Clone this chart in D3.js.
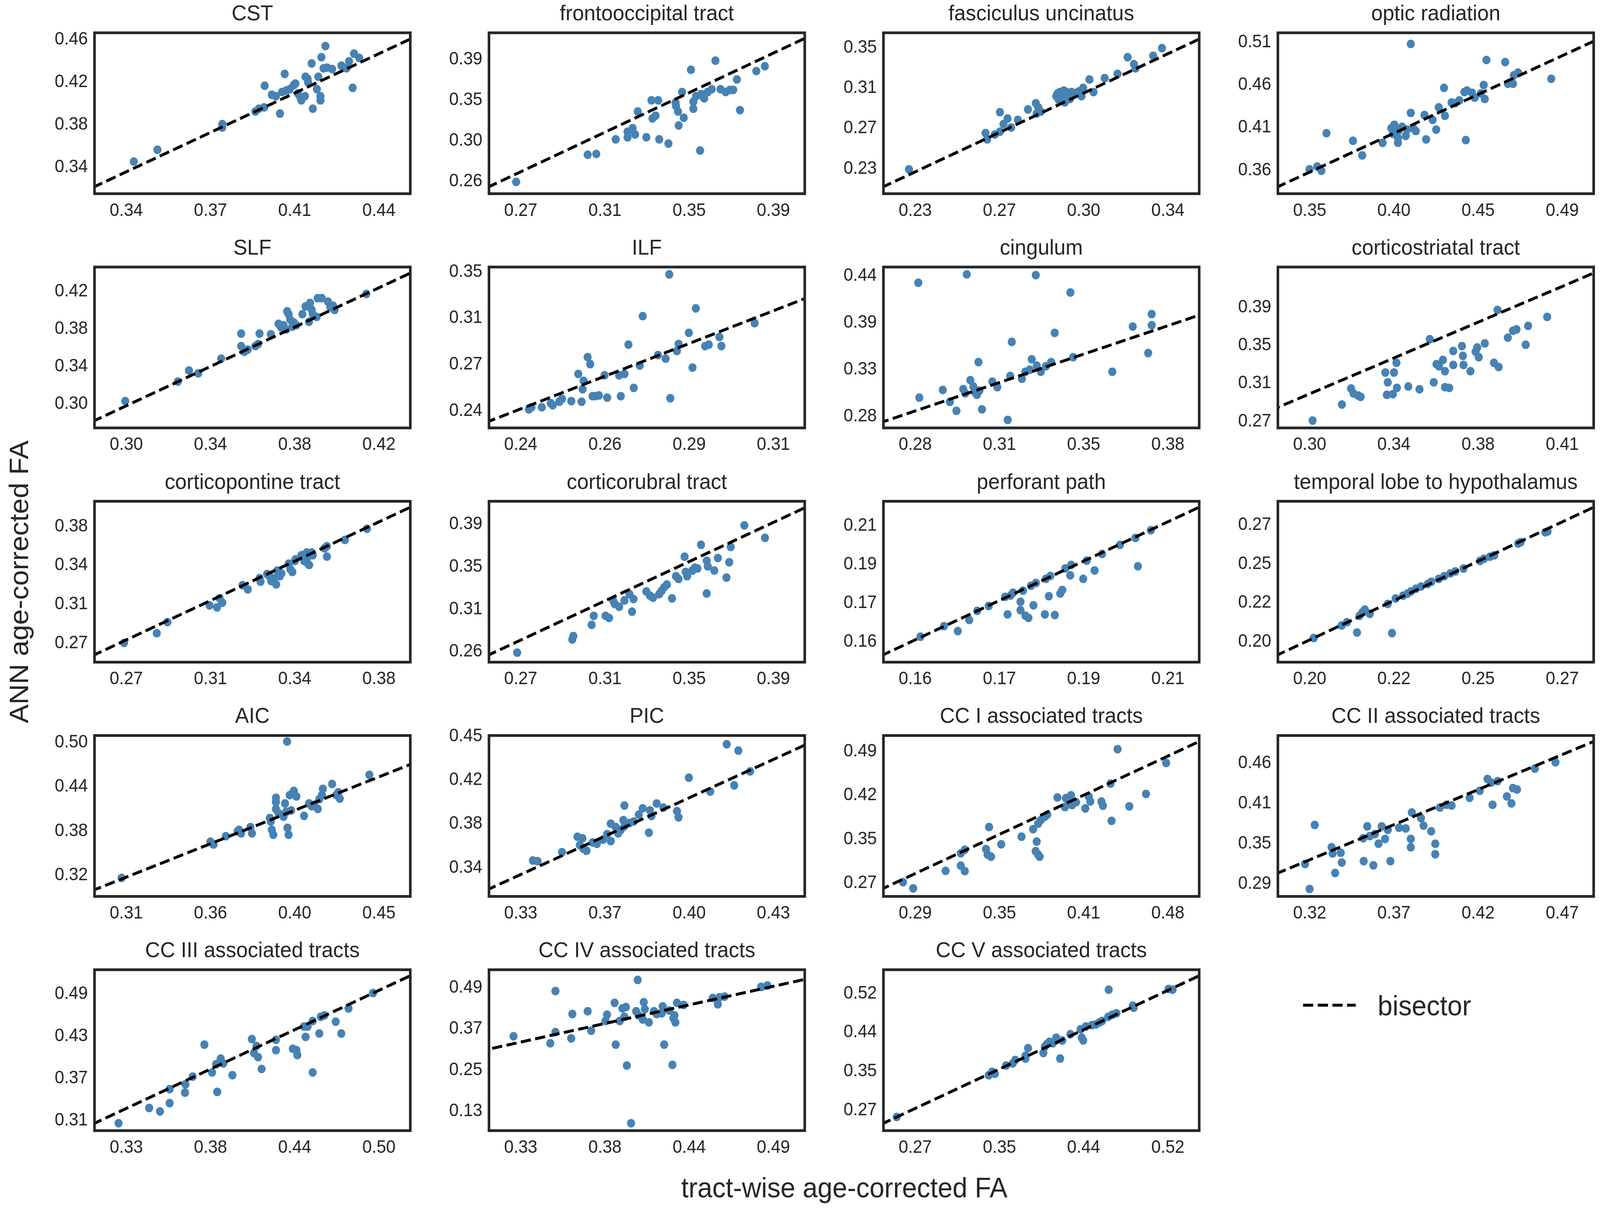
<!DOCTYPE html>
<html>
<head>
<meta charset="utf-8">
<title>ANN vs tract-wise age-corrected FA</title>
<script src="https://d3js.org/d3.v7.min.js"></script>
<style>
  html, body { margin: 0; padding: 0; background: #fff; overflow: hidden; }
  #chart { display: block; width: 100vw; height: 100vh; }
  text { font-family: "Liberation Sans", Arial, sans-serif; fill: #262626; }
</style>
</head>
<body>
<svg id="chart" viewBox="0 0 4317 3101" preserveAspectRatio="none"></svg>
<script>
// panel titles, in reading order
const titles = ["CST", "frontooccipital tract", "fasciculus uncinatus", "optic radiation",
  "SLF", "ILF", "cingulum", "corticostriatal tract",
  "corticopontine tract", "corticorubral tract", "perforant path", "temporal lobe to hypothalamus",
  "AIC", "PIC", "CC I associated tracts", "CC II associated tracts",
  "CC III associated tracts", "CC IV associated tracts", "CC V associated tracts"];

// [tract-wise FA, ANN FA] per subject
const cst = [[0.3409,0.3469],[0.3508,0.3575],[0.3780,0.3806],[0.3780,0.3775],[0.3919,0.3919],[0.3934,0.3944],[0.3956,0.3956],[0.4022,0.3900],[0.3958,0.4150],[0.3988,0.4069],[0.4005,0.4056],[0.4042,0.4256],[0.4031,0.4094],[0.4048,0.4106],[0.4063,0.4119],[0.4080,0.4156],[0.4087,0.4169],[0.4097,0.4081],[0.4108,0.4044],[0.4112,0.4019],[0.4127,0.4056],[0.4129,0.4231],[0.4138,0.4213],[0.4140,0.4181],[0.4155,0.4350],[0.4160,0.3944],[0.4177,0.4119],[0.4183,0.4231],[0.4192,0.4056],[0.4192,0.4019],[0.4196,0.4406],[0.4205,0.4306],[0.4213,0.4506],[0.4220,0.4312],[0.4241,0.4300],[0.4280,0.4331],[0.4301,0.4306],[0.4312,0.4369],[0.4327,0.4131],[0.4333,0.4438],[0.4355,0.4400]];
const fronto = [[0.2678,0.2595],[0.3028,0.2878],[0.3070,0.2886],[0.3165,0.3038],[0.3223,0.3060],[0.3223,0.3118],[0.3248,0.3154],[0.3260,0.3089],[0.3273,0.3328],[0.3315,0.3060],[0.3340,0.3444],[0.3345,0.3256],[0.3360,0.3285],[0.3373,0.3444],[0.3378,0.3038],[0.3423,0.2994],[0.3458,0.3422],[0.3460,0.3386],[0.3470,0.3328],[0.3473,0.3183],[0.3490,0.3531],[0.3498,0.3263],[0.3533,0.3763],[0.3545,0.3430],[0.3545,0.3357],[0.3558,0.3488],[0.3578,0.2922],[0.3583,0.3509],[0.3590,0.3488],[0.3598,0.3466],[0.3615,0.3531],[0.3635,0.3560],[0.3653,0.3858],[0.3678,0.3560],[0.3703,0.3531],[0.3723,0.3553],[0.3740,0.3553],[0.3758,0.3662],[0.3773,0.3343],[0.3853,0.3749],[0.3895,0.3800]];
const uncinatus = [[0.2260,0.2311],[0.2601,0.2657],[0.2608,0.2597],[0.2642,0.2643],[0.2665,0.2670],[0.2665,0.2856],[0.2681,0.2743],[0.2699,0.2796],[0.2715,0.2710],[0.2745,0.2783],[0.2790,0.2882],[0.2825,0.2942],[0.2829,0.2843],[0.2836,0.2902],[0.2847,0.2862],[0.2916,0.3009],[0.2922,0.3035],[0.2927,0.2975],[0.2932,0.3048],[0.2943,0.3002],[0.2950,0.3062],[0.2954,0.2949],[0.2961,0.3048],[0.2973,0.3022],[0.2977,0.2982],[0.2984,0.3048],[0.2995,0.3035],[0.3007,0.3042],[0.3018,0.3055],[0.3029,0.3009],[0.3036,0.3088],[0.3064,0.3168],[0.3082,0.3048],[0.3132,0.3181],[0.3189,0.3221],[0.3234,0.3380],[0.3262,0.3314],[0.3269,0.3274],[0.3348,0.3394],[0.3387,0.3467]];
const optic = [[0.3533,0.3567],[0.3576,0.3600],[0.3599,0.3550],[0.3627,0.4002],[0.3774,0.3910],[0.3825,0.3734],[0.3938,0.3885],[0.3986,0.4061],[0.3995,0.3994],[0.4003,0.4103],[0.4023,0.3944],[0.4023,0.3885],[0.4029,0.4036],[0.4046,0.4078],[0.4066,0.3969],[0.4074,0.4044],[0.4094,0.4245],[0.4108,0.4061],[0.4122,0.4027],[0.4094,0.5074],[0.4170,0.4220],[0.4179,0.3927],[0.4215,0.4161],[0.4235,0.4044],[0.4249,0.4312],[0.4278,0.4546],[0.4283,0.4211],[0.4320,0.4370],[0.4340,0.4362],[0.4363,0.4396],[0.4391,0.4496],[0.4399,0.3918],[0.4405,0.4513],[0.4433,0.4488],[0.4448,0.4429],[0.4482,0.4479],[0.4498,0.4580],[0.4504,0.4412],[0.4513,0.4881],[0.4617,0.4856],[0.4632,0.4596],[0.4660,0.4596],[0.4665,0.4697],[0.4688,0.4730],[0.4872,0.4655]];
const slf = [[0.2983,0.3037],[0.3238,0.3239],[0.3292,0.3354],[0.3337,0.3325],[0.3448,0.3477],[0.3545,0.3737],[0.3545,0.3607],[0.3560,0.3549],[0.3577,0.3571],[0.3614,0.3607],[0.3627,0.3629],[0.3634,0.3737],[0.3689,0.3730],[0.3726,0.3838],[0.3738,0.3802],[0.3750,0.3824],[0.3763,0.3780],[0.3768,0.3968],[0.3775,0.3939],[0.3783,0.3881],[0.3793,0.3809],[0.3800,0.3853],[0.3812,0.3824],[0.3842,0.3939],[0.3857,0.4019],[0.3874,0.3860],[0.3879,0.4055],[0.3887,0.3983],[0.3892,0.3939],[0.3911,0.3910],[0.3916,0.4105],[0.3936,0.4105],[0.3966,0.4069],[0.3978,0.4011],[0.3991,0.4026],[0.3998,0.3983],[0.4152,0.4149]];
const ilf = [[0.2409,0.2381],[0.2417,0.2397],[0.2448,0.2397],[0.2475,0.2429],[0.2481,0.2413],[0.2501,0.2440],[0.2509,0.2462],[0.2537,0.2445],[0.2558,0.2656],[0.2568,0.2440],[0.2571,0.2537],[0.2574,0.2602],[0.2586,0.2786],[0.2594,0.2732],[0.2601,0.2483],[0.2609,0.2483],[0.2620,0.2489],[0.2637,0.2645],[0.2645,0.2472],[0.2681,0.2645],[0.2686,0.2483],[0.2697,0.2656],[0.2709,0.2883],[0.2725,0.2548],[0.2743,0.2721],[0.2752,0.3104],[0.2798,0.2802],[0.2821,0.2775],[0.2832,0.3428],[0.2835,0.2467],[0.2855,0.2834],[0.2860,0.2888],[0.2891,0.2975],[0.2902,0.2705],[0.2912,0.3164],[0.2940,0.2872],[0.2951,0.2883],[0.2983,0.2942],[0.2989,0.2872],[0.3089,0.3050]];
const cingulum = [[0.2823,0.4316],[0.2827,0.2967],[0.2920,0.3057],[0.2948,0.2918],[0.2974,0.2812],[0.3001,0.3066],[0.3009,0.3017],[0.3015,0.4414],[0.3029,0.3172],[0.3041,0.3098],[0.3049,0.3025],[0.3055,0.3000],[0.3061,0.3384],[0.3065,0.3049],[0.3075,0.2829],[0.3116,0.3155],[0.3136,0.3090],[0.3177,0.2706],[0.3187,0.3221],[0.3193,0.3621],[0.3233,0.3188],[0.3247,0.3270],[0.3264,0.3294],[0.3272,0.3417],[0.3288,0.4405],[0.3292,0.3343],[0.3308,0.3270],[0.3328,0.3335],[0.3349,0.3384],[0.3363,0.3727],[0.3425,0.4201],[0.3436,0.3441],[0.3591,0.3270],[0.3672,0.3801],[0.3733,0.3490],[0.3747,0.3817],[0.3747,0.3948]];
const striatal = [[0.3029,0.2735],[0.3160,0.2903],[0.3201,0.3072],[0.3212,0.3020],[0.3233,0.2998],[0.3244,0.2984],[0.3354,0.3240],[0.3361,0.3006],[0.3365,0.3137],[0.3388,0.3013],[0.3393,0.3240],[0.3404,0.3342],[0.3406,0.3079],[0.3457,0.3093],[0.3507,0.3064],[0.3553,0.3591],[0.3571,0.3137],[0.3583,0.3328],[0.3594,0.3306],[0.3612,0.3372],[0.3621,0.3254],[0.3621,0.3086],[0.3640,0.3079],[0.3658,0.3320],[0.3658,0.3467],[0.3697,0.3518],[0.3701,0.3415],[0.3704,0.3320],[0.3735,0.3254],[0.3758,0.3459],[0.3765,0.3503],[0.3772,0.3401],[0.3799,0.3547],[0.3840,0.3342],[0.3856,0.3898],[0.3861,0.3298],[0.3902,0.3606],[0.3925,0.3679],[0.3941,0.3693],[0.3982,0.3532],[0.3993,0.3730],[0.4078,0.3825]];
const pontine = [[0.2698,0.2680],[0.2842,0.2771],[0.2889,0.2876],[0.3074,0.3033],[0.3107,0.3014],[0.3118,0.3099],[0.3130,0.3059],[0.3219,0.3223],[0.3242,0.3184],[0.3294,0.3289],[0.3298,0.3256],[0.3327,0.3328],[0.3338,0.3308],[0.3345,0.3262],[0.3356,0.3289],[0.3367,0.3230],[0.3372,0.3361],[0.3383,0.3308],[0.3390,0.3334],[0.3422,0.3426],[0.3429,0.3374],[0.3438,0.3348],[0.3449,0.3452],[0.3452,0.3466],[0.3478,0.3505],[0.3490,0.3452],[0.3501,0.3531],[0.3501,0.3439],[0.3507,0.3492],[0.3512,0.3413],[0.3523,0.3531],[0.3528,0.3505],[0.3579,0.3570],[0.3590,0.3492],[0.3590,0.3590],[0.3669,0.3649],[0.3766,0.3754]];
const rubral = [[0.2711,0.2599],[0.2973,0.2734],[0.2978,0.2769],[0.3065,0.2883],[0.3075,0.2975],[0.3131,0.2975],[0.3148,0.2954],[0.3167,0.3132],[0.3175,0.3096],[0.3196,0.3068],[0.3221,0.3132],[0.3245,0.3196],[0.3257,0.3018],[0.3264,0.3146],[0.3325,0.3224],[0.3342,0.3181],[0.3357,0.3160],[0.3386,0.3196],[0.3398,0.3231],[0.3410,0.3267],[0.3423,0.3295],[0.3447,0.3153],[0.3466,0.3380],[0.3478,0.3352],[0.3507,0.3579],[0.3512,0.3423],[0.3519,0.3380],[0.3544,0.3437],[0.3556,0.3466],[0.3568,0.3458],[0.3585,0.3700],[0.3612,0.3203],[0.3612,0.3537],[0.3617,0.3480],[0.3648,0.3437],[0.3665,0.3565],[0.3706,0.3366],[0.3719,0.3522],[0.3726,0.3679],[0.3791,0.3899],[0.3889,0.3771]];
const perforant = [[0.1585,0.1588],[0.1632,0.1633],[0.1660,0.1612],[0.1683,0.1660],[0.1699,0.1699],[0.1722,0.1720],[0.1755,0.1759],[0.1760,0.1684],[0.1766,0.1765],[0.1771,0.1777],[0.1786,0.1738],[0.1786,0.1702],[0.1791,0.1786],[0.1796,0.1678],[0.1802,0.1669],[0.1807,0.1807],[0.1812,0.1723],[0.1817,0.1819],[0.1835,0.1684],[0.1837,0.1837],[0.1843,0.1762],[0.1846,0.1849],[0.1855,0.1681],[0.1866,0.1774],[0.1870,0.1789],[0.1876,0.1882],[0.1886,0.1852],[0.1888,0.1897],[0.1912,0.1837],[0.1919,0.1915],[0.1935,0.1873],[0.1950,0.1944],[0.1986,0.1983],[0.2017,0.2013],[0.2022,0.1891],[0.2048,0.2046]];
const hypothal = [[0.2017,0.2017],[0.2095,0.2092],[0.2110,0.2112],[0.2138,0.2050],[0.2145,0.2150],[0.2153,0.2171],[0.2160,0.2187],[0.2174,0.2162],[0.2224,0.2221],[0.2236,0.2046],[0.2246,0.2254],[0.2267,0.2271],[0.2279,0.2283],[0.2289,0.2296],[0.2303,0.2312],[0.2317,0.2325],[0.2336,0.2341],[0.2346,0.2354],[0.2367,0.2371],[0.2382,0.2387],[0.2399,0.2404],[0.2413,0.2416],[0.2436,0.2433],[0.2482,0.2479],[0.2493,0.2491],[0.2510,0.2504],[0.2522,0.2512],[0.2589,0.2583],[0.2596,0.2591],[0.2665,0.2650],[0.2671,0.2655]];
const aic = [[0.3108,0.3123],[0.3585,0.3613],[0.3602,0.3575],[0.3668,0.3688],[0.3731,0.3754],[0.3739,0.3773],[0.3750,0.3726],[0.3800,0.3811],[0.3808,0.3726],[0.3904,0.3933],[0.3909,0.3886],[0.3915,0.3773],[0.3923,0.3707],[0.3937,0.4207],[0.3937,0.4150],[0.3937,0.4056],[0.3951,0.4000],[0.3978,0.3952],[0.3986,0.4131],[0.3992,0.4018],[0.3997,0.4970],[0.3999,0.3801],[0.4005,0.3707],[0.4011,0.4244],[0.4019,0.4037],[0.4033,0.4301],[0.4047,0.4226],[0.4088,0.3962],[0.4115,0.4131],[0.4129,0.4094],[0.4143,0.4113],[0.4162,0.4056],[0.4170,0.4188],[0.4184,0.4244],[0.4189,0.4329],[0.4239,0.4395],[0.4261,0.4244],[0.4272,0.4282],[0.4280,0.4197],[0.4439,0.4518]];
const pic = [[0.3391,0.3463],[0.3409,0.3457],[0.3504,0.3534],[0.3564,0.3665],[0.3573,0.3594],[0.3583,0.3653],[0.3587,0.3564],[0.3599,0.3546],[0.3623,0.3617],[0.3639,0.3605],[0.3663,0.3641],[0.3679,0.3688],[0.3693,0.3629],[0.3693,0.3777],[0.3712,0.3748],[0.3722,0.3694],[0.3732,0.3724],[0.3742,0.3807],[0.3746,0.3754],[0.3746,0.3931],[0.3766,0.3783],[0.3782,0.3795],[0.3802,0.3854],[0.3817,0.3908],[0.3841,0.3700],[0.3845,0.3890],[0.3851,0.3842],[0.3871,0.3949],[0.3897,0.3914],[0.3950,0.3884],[0.3956,0.3831],[0.3996,0.4168],[0.4079,0.4050],[0.4143,0.4453],[0.4172,0.4103],[0.4188,0.4399],[0.4234,0.4222]];
const cc1 = [[0.2794,0.2746],[0.2870,0.2646],[0.3113,0.2928],[0.3227,0.3012],[0.3257,0.2924],[0.3227,0.3212],[0.3257,0.3268],[0.3416,0.3279],[0.3428,0.3190],[0.3454,0.3157],[0.3439,0.3635],[0.3530,0.3357],[0.3682,0.3479],[0.3769,0.3601],[0.3788,0.3246],[0.3796,0.3401],[0.3807,0.3190],[0.3807,0.3690],[0.3818,0.3157],[0.3826,0.3746],[0.3856,0.3801],[0.3875,0.3835],[0.3951,0.4112],[0.4008,0.3957],[0.4015,0.4101],[0.4035,0.4046],[0.4053,0.4146],[0.4061,0.3990],[0.4072,0.4024],[0.4091,0.4035],[0.4160,0.3935],[0.4186,0.4124],[0.4198,0.4046],[0.4281,0.4046],[0.4292,0.3979],[0.4349,0.4335],[0.4357,0.3735],[0.4402,0.4890],[0.4490,0.3968],[0.4615,0.4168],[0.4766,0.4668]];
const cc2 = [[0.3222,0.3190],[0.3249,0.2837],[0.3279,0.3741],[0.3378,0.3426],[0.3384,0.3338],[0.3399,0.3063],[0.3432,0.3348],[0.3438,0.3210],[0.3564,0.3554],[0.3567,0.3230],[0.3588,0.3721],[0.3603,0.3584],[0.3624,0.3171],[0.3633,0.3613],[0.3654,0.3476],[0.3673,0.3721],[0.3693,0.3544],[0.3709,0.3672],[0.3724,0.3230],[0.3775,0.3702],[0.3814,0.3692],[0.3844,0.3544],[0.3844,0.3426],[0.3850,0.3918],[0.3904,0.3839],[0.3919,0.3731],[0.3964,0.3652],[0.3988,0.3476],[0.3988,0.3328],[0.4015,0.3987],[0.4054,0.4026],[0.4084,0.4016],[0.4190,0.4124],[0.4250,0.4223],[0.4295,0.4390],[0.4316,0.4340],[0.4325,0.4026],[0.4355,0.4360],[0.4409,0.4144],[0.4436,0.4046],[0.4445,0.4262],[0.4469,0.4242],[0.4574,0.4537],[0.4695,0.4626]];
const cc3 = [[0.3235,0.3076],[0.3438,0.3293],[0.3510,0.3244],[0.3574,0.3362],[0.3574,0.3560],[0.3676,0.3511],[0.3679,0.3629],[0.3727,0.3738],[0.3805,0.4193],[0.3856,0.3797],[0.3883,0.3916],[0.3890,0.3521],[0.3913,0.3995],[0.3930,0.3926],[0.3991,0.3758],[0.4120,0.4272],[0.4134,0.4074],[0.4151,0.4173],[0.4161,0.4015],[0.4185,0.3847],[0.4280,0.4262],[0.4280,0.4114],[0.4392,0.4134],[0.4416,0.4114],[0.4422,0.4045],[0.4477,0.4302],[0.4466,0.4450],[0.4490,0.4450],[0.4524,0.3797],[0.4524,0.4529],[0.4568,0.4351],[0.4578,0.4589],[0.4602,0.4609],[0.4677,0.4519],[0.4714,0.4351],[0.4762,0.4707],[0.4925,0.4925]];
const cc4 = [[0.3240,0.3456],[0.3477,0.3252],[0.3510,0.4777],[0.3510,0.3578],[0.3612,0.3395],[0.3619,0.4106],[0.3718,0.4188],[0.3741,0.3618],[0.3833,0.3903],[0.3843,0.4086],[0.3892,0.4432],[0.3899,0.3212],[0.3925,0.3903],[0.3942,0.4269],[0.3955,0.4025],[0.3965,0.4310],[0.3971,0.2602],[0.3998,0.0914],[0.4031,0.4188],[0.4041,0.5103],[0.4047,0.4066],[0.4074,0.3944],[0.4080,0.4452],[0.4087,0.4249],[0.4113,0.3862],[0.4146,0.4188],[0.4163,0.4106],[0.4196,0.4127],[0.4202,0.4330],[0.4212,0.3212],[0.4245,0.4208],[0.4265,0.2622],[0.4271,0.3984],[0.4278,0.4066],[0.4284,0.3862],[0.4294,0.4432],[0.4337,0.4371],[0.4525,0.4574],[0.4558,0.4391],[0.4568,0.4594],[0.4601,0.4615],[0.4838,0.4899],[0.4878,0.4940]];
const cc5 = [[0.2522,0.2523],[0.3441,0.3416],[0.3476,0.3490],[0.3502,0.3446],[0.3614,0.3624],[0.3681,0.3669],[0.3706,0.3743],[0.3808,0.3773],[0.3808,0.3833],[0.3834,0.3996],[0.3987,0.3892],[0.4002,0.4026],[0.4023,0.4086],[0.4048,0.4130],[0.4079,0.4100],[0.4115,0.4160],[0.4115,0.4219],[0.4155,0.3773],[0.4176,0.4160],[0.4257,0.4294],[0.4359,0.4398],[0.4370,0.4219],[0.4385,0.4160],[0.4411,0.4458],[0.4472,0.4487],[0.4513,0.4502],[0.4548,0.4547],[0.4574,0.4577],[0.4635,0.4666],[0.4640,0.5246],[0.4676,0.4710],[0.4717,0.4740],[0.4880,0.4904],[0.4890,0.4859],[0.5238,0.5261],[0.5278,0.5246]];

const panelData = [cst, fronto, uncinatus, optic, slf, ilf, cingulum, striatal,
  pontine, rubral, perforant, hypothal, aic, pic, cc1, cc2, cc3, cc4, cc5];

// axis limits (x = tract-wise FA, y = ANN FA)
const xLims = [[0.3244,0.4569],[0.2545,0.4090],[0.2146,0.3553],[0.3358,0.5107],
  [0.2834,0.4365],[0.2289,0.3240],[0.2685,0.3935],[0.28738,0.42859],
  [0.25682,0.39565],[0.25769,0.40781],[0.15105,0.21452],[0.19167,0.28001],
  [0.29623,0.46589],[0.32205,0.44457],[0.26472,0.50138],[0.30623,0.49197],
  [0.30753,0.51721],[0.30813,0.51188],[0.2389,0.55441]];
const yLims = [[0.3181,0.4625],[0.2472,0.4148],[0.2079,0.3613],[0.3274,0.5208],
  [0.2758,0.4428],[0.2237,0.3485],[0.26113,0.44998],[0.26575,0.43491],
  [0.24987,0.40127],[0.25021,0.41446],[0.14784,0.21706],[0.18724,0.28358],
  [0.28721,0.50511],[0.31575,0.45277],[0.25169,0.51102],[0.27323,0.50044],
  [0.29707,0.52573],[0.06982,0.54002],[0.22315,0.56722]];
// first and last y tick (4 evenly spaced ticks)
const yTickEnds = [[0.3426,0.4574],[0.261,0.388],[0.2327,0.348],[0.3567,0.5107],
  [0.3016,0.4186],[0.2376,0.3456],[0.2756,0.4406],[0.2736,0.3936],
  [0.2686,0.3786],[0.262,0.392],[0.157,0.207],[0.2,0.27],
  [0.317,0.497],[0.341,0.453],[0.2748,0.4868],[0.2926,0.4626],
  [0.3126,0.4926],[0.13,0.49],[0.2687,0.5187]];

const svg = d3.select("#chart");
const boxW = 852, boxH = 412;
const fmt = d3.format(".2f");
const dash = "27.5,12";

panelData.forEach(function(pts, i) {
  const r = Math.floor(i / 4), c = i % 4;
  const left = 255 + c * 1064.3, top = 84 + r * 599.8;
  const g = svg.append("g").attr("transform", "translate(" + left + "," + top + ")");

  const x = d3.scaleLinear().domain(xLims[i]).range([0, boxW]);
  const y = d3.scaleLinear().domain(yLims[i]).range([boxH, 0]);

  // x ticks sit at 10% .. 90% of the axis span
  const xs = xLims[i][1] - xLims[i][0];
  const xTicks = d3.range(4).map(k => xLims[i][0] + xs * (0.1 + 0.8 * k / 3));
  const ye = yTickEnds[i];
  const yTicks = d3.range(4).map(k => ye[0] + (ye[1] - ye[0]) * k / 3);

  g.append("clipPath").attr("id", "clip" + i)
    .append("rect").attr("width", boxW).attr("height", boxH);

  const xAxis = g.append("g").attr("transform", "translate(0," + boxH + ")")
    .call(d3.axisBottom(x).tickValues(xTicks).tickFormat(fmt).tickSize(0).tickPadding(24));
  const yAxis = g.append("g")
    .call(d3.axisLeft(y).tickValues(yTicks).tickFormat(fmt).tickSize(0).tickPadding(18));
  [xAxis, yAxis].forEach(a => {
    a.select(".domain").remove();
    a.selectAll("text").attr("font-size", 46)
      .attr("font-family", "Liberation Sans, Arial, sans-serif").attr("fill", "#262626");
  });

  const plot = g.append("g").attr("clip-path", "url(#clip" + i + ")");
  plot.selectAll("circle").data(pts).enter().append("circle")
    .attr("cx", d => x(d[0]))
    .attr("cy", d => y(d[1]))
    .attr("r", 11)
    .attr("fill", "#4682b4");

  // bisector y = x
  const lo = Math.min(xLims[i][0], yLims[i][0]), hi = Math.max(xLims[i][1], yLims[i][1]);
  plot.append("path")
    .datum([[lo, lo], [hi, hi]])
    .attr("d", d3.line().x(d => x(d[0])).y(d => y(d[1])))
    .attr("fill", "none").attr("stroke", "#000")
    .attr("stroke-width", 7.5).attr("stroke-dasharray", dash);

  g.append("rect").attr("width", boxW).attr("height", boxH)
    .attr("fill", "none").attr("stroke", "#262626").attr("stroke-width", 7);

  g.append("text").attr("x", boxW / 2).attr("y", -32)
    .attr("text-anchor", "middle").attr("font-size", 56).text(titles[i]);
});

// axis labels
svg.append("text").attr("x", 2278).attr("y", 3066).attr("text-anchor", "middle")
  .attr("font-size", 72).text("tract-wise age-corrected FA");
svg.append("text").attr("transform", "translate(76,1490) rotate(-90)")
  .attr("text-anchor", "middle").attr("font-size", 72).text("ANN age-corrected FA");

// legend
const lg = svg.append("g").attr("transform", "translate(3516,2574)");
lg.append("line").attr("x1", 0).attr("x2", 142).attr("y1", 0).attr("y2", 0)
  .attr("stroke", "#000").attr("stroke-width", 7.5).attr("stroke-dasharray", dash);
lg.append("text").attr("x", 201).attr("y", 26).attr("font-size", 72).text("bisector");
</script>
</body>
</html>
